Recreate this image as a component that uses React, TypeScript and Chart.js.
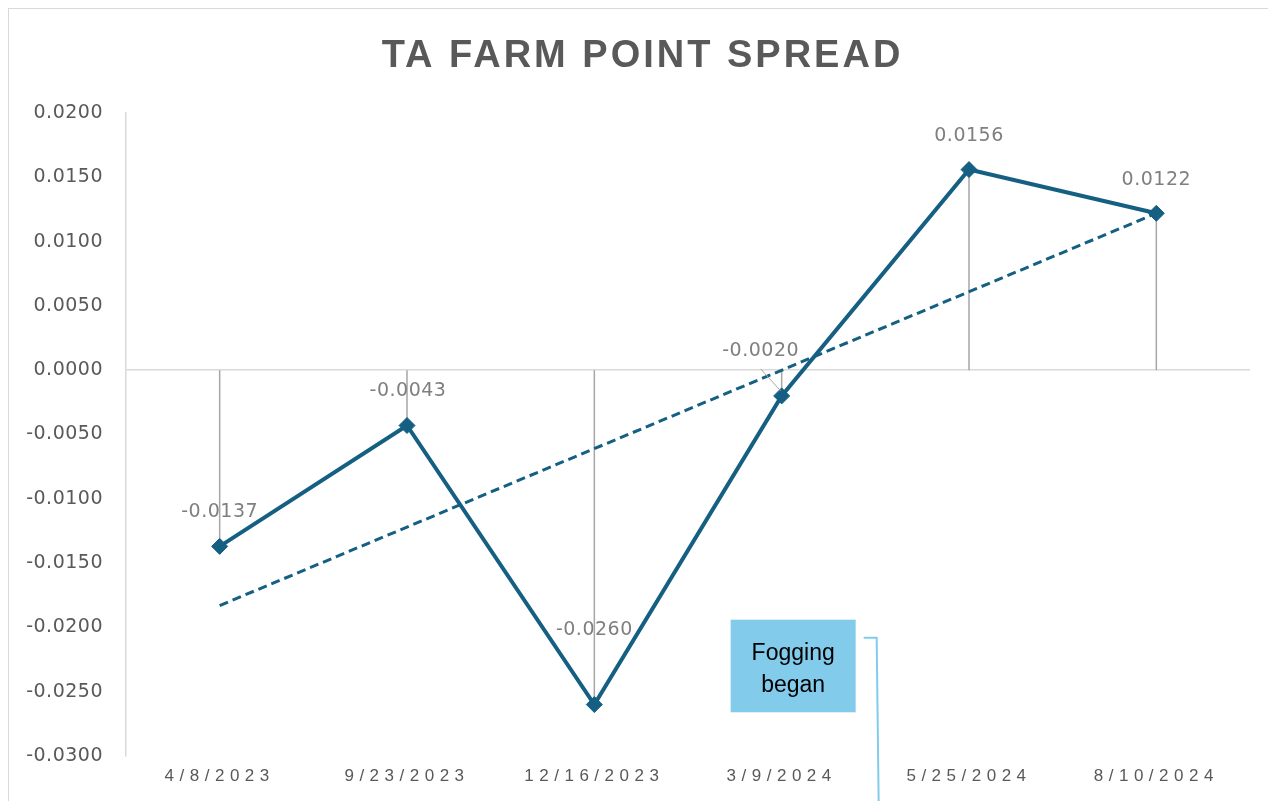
import React, { useEffect, useRef } from "react";
import { Chart, registerables } from "chart.js";

Chart.register(...registerables);

// ---- data ----
const categories = ["4/8/2023", "9/23/2023", "12/16/2023", "3/9/2024", "5/25/2024", "8/10/2024"];
const spreadValues = [-0.0137, -0.0043, -0.026, -0.002, 0.0156, 0.0122];
const trendValues: (number | null)[] = [-0.0183, null, null, null, null, 0.0122];
const yMin = -0.03;
const yMax = 0.02;
const yStep = 0.005;
const chartTitle = "TA FARM POINT SPREAD";
const annotationLines = ["Fogging", "began"];
const annotationCategoryIndex = 3;
const annotationTopValue = -0.0194;
const annotationBottomValue = -0.0266;

// ---- styles ----
const LINE_COLOR = "#156082";
const TEXT_DARK = "#595959";
const LABEL_GRAY = "#7f7f7f";
const AXIS_GRAY = "#d9d9d9";
const DROP_GRAY = "#a6a6a6";
const CALLOUT_BLUE = "#83CBEB";
const FONT = "'Liberation Sans', Arial, sans-serif";
const NUM_FONT = "'DejaVu Sans', 'Liberation Sans', sans-serif";
// data label offsets (dx, dy) from the point, and leader line flag
const labelOffsets: [number, number, boolean][] = [
  [0, -34, false],
  [1, -34, false],
  [0, -74, false],
  [-21, -45, true],
  [0, -34, false],
  [0, -33, false],
];

const customPlugin = {
  id: "customDraw",
  beforeDraw(chart: any) {
    chart.ctx.letterSpacing = "0.5px";
  },
  beforeDatasetsDraw(chart: any) {
    const { ctx, scales } = chart;
    const x = scales.x;
    const y = scales.y;
    const y0 = y.getPixelForValue(0);
    ctx.save();
    ctx.strokeStyle = DROP_GRAY;
    ctx.lineWidth = 1.5;
    spreadValues.forEach((v, i) => {
      const px = x.getPixelForValue(i);
      const py = y.getPixelForValue(v);
      ctx.beginPath();
      ctx.moveTo(px, y0);
      ctx.lineTo(px, py);
      ctx.stroke();
    });
    ctx.restore();
  },
  afterDraw(chart: any) {
    const { ctx, scales, chartArea } = chart;
    const x = scales.x;
    const y = scales.y;
    ctx.save();

    // title
    ctx.letterSpacing = "3px";
    ctx.font = `bold 38px ${FONT}`;
    ctx.fillStyle = TEXT_DARK;
    ctx.textAlign = "center";
    ctx.textBaseline = "middle";
    ctx.fillText(chartTitle, chart.width / 2, 48);

    // x labels
    const xs = 5.5;
    ctx.letterSpacing = xs + "px";
    ctx.font = `17px ${FONT}`;
    ctx.fillStyle = TEXT_DARK;
    categories.forEach((c, i) => {
      ctx.fillText(c, x.getPixelForValue(i), chartArea.bottom + 20);
    });

    // data labels
    ctx.letterSpacing = "0.5px";
    ctx.font = `19px ${NUM_FONT}`;
    ctx.fillStyle = LABEL_GRAY;
    spreadValues.forEach((v, i) => {
      const px = x.getPixelForValue(i);
      const py = y.getPixelForValue(v);
      const [dx, dy, leader] = labelOffsets[i];
      const lx = px + dx;
      const ly = py + dy;
      if (leader) {
        ctx.strokeStyle = DROP_GRAY;
        ctx.lineWidth = 1;
        ctx.beginPath();
        ctx.moveTo(lx, ly + 18);
        ctx.lineTo(px - 1, py - 5);
        ctx.stroke();
      }
      ctx.fillText(v.toFixed(4), lx, ly);
    });

    // annotation box
    const cx = x.getPixelForValue(annotationCategoryIndex);
    const bx = cx - 51;
    const bw = 125;
    const by = y.getPixelForValue(annotationTopValue);
    const bh = y.getPixelForValue(annotationBottomValue) - by;
    ctx.fillStyle = CALLOUT_BLUE;
    ctx.fillRect(bx, by, bw, bh);
    ctx.letterSpacing = "0px";
    ctx.font = `23px ${FONT}`;
    ctx.fillStyle = "#000000";
    ctx.textBaseline = "alphabetic";
    annotationLines.forEach((t, i) => {
      ctx.fillText(t, bx + bw / 2, by + 40 + i * 32);
    });
    // bracket
    ctx.strokeStyle = CALLOUT_BLUE;
    ctx.lineWidth = 2;
    ctx.beginPath();
    ctx.moveTo(bx + bw + 8, by + 18);
    ctx.lineTo(bx + bw + 21, by + 18);
    ctx.lineTo(bx + bw + 23, chart.height + 2);
    ctx.stroke();

    ctx.restore();
  },
};

export default function App() {
  const canvasRef = useRef<HTMLCanvasElement | null>(null);

  useEffect(() => {
    document.documentElement.style.overflow = "hidden";
    document.body.style.overflow = "hidden";
    const canvas = canvasRef.current;
    if (!canvas) return;
    const chart = new Chart(canvas, {
      type: "line",
      data: {
        labels: categories,
        datasets: [
          {
            label: "Spread",
            data: spreadValues,
            borderColor: LINE_COLOR,
            backgroundColor: LINE_COLOR,
            borderWidth: 4,
            pointStyle: "rectRot",
            pointRadius: 8,
            pointBackgroundColor: LINE_COLOR,
            pointBorderColor: LINE_COLOR,
            pointBorderWidth: 1,
            tension: 0,
            fill: false,
          },
          {
            label: "Trend",
            data: trendValues,
            borderColor: LINE_COLOR,
            borderWidth: 3,
            borderDash: [9, 5],
            pointRadius: 0,
            spanGaps: true,
            tension: 0,
            fill: false,
          },
        ],
      },
      options: {
        responsive: false,
        animation: false,
        layout: { padding: { top: 104, right: 26, left: 0, bottom: 0 } },
        plugins: {
          legend: { display: false },
          tooltip: { enabled: false },
          title: { display: false },
        },
        scales: {
          x: {
            type: "category",
            offset: true,
            grid: { display: false },
            border: { display: false },
            ticks: { display: false },
            afterFit: (scale: any) => {
              scale.height = 45;
            },
          },
          y: {
            min: yMin,
            max: yMax,
            ticks: {
              stepSize: yStep,
              color: TEXT_DARK,
              font: { family: NUM_FONT, size: 19 },
              padding: 23,
              callback: (v: any) => Number(v).toFixed(4),
            },
            grid: {
              drawTicks: false,
              lineWidth: 1.5,
              color: (c: any) => (c.tick && Math.abs(c.tick.value) < 1e-9 ? AXIS_GRAY : "rgba(0,0,0,0)"),
            },
            border: { display: true, color: AXIS_GRAY, width: 1.5 },
            afterFit: (scale: any) => {
              scale.width = 117;
            },
          },
        },
      },
      plugins: [customPlugin],
    } as any);
    return () => chart.destroy();
  }, []);

  return (
    <div
      style={{
        width: 1268,
        height: 793,
        borderTop: `1px solid ${AXIS_GRAY}`,
        borderLeft: `1px solid ${AXIS_GRAY}`,
        boxSizing: "border-box",
        overflow: "hidden",
        background: "#ffffff",
      }}
    >
      <canvas ref={canvasRef} width={1267} height={792} style={{ display: "block" }} />
    </div>
  );
}
